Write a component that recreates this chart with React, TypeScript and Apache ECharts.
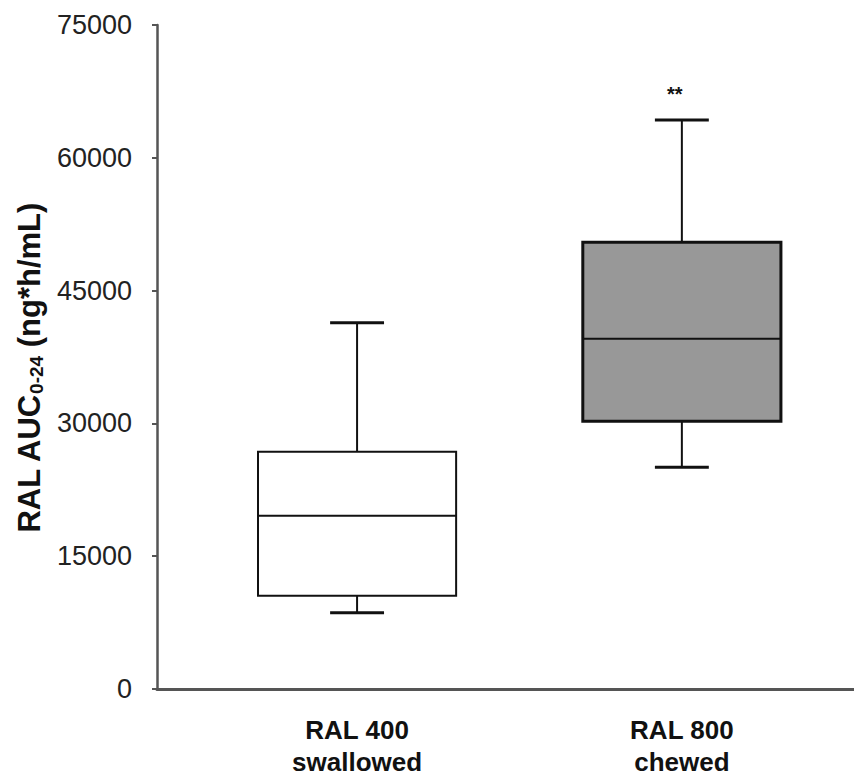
import React, { useEffect, useRef } from "react";
import * as echarts from "echarts";

// Groups and their five-number summaries (ng*h/mL)
const categories = ["RAL 400\nswallowed", "RAL 800\nchewed"];
const positions = [1, 2];
const whiskerLow = [8620, 25040];
const quartile1 = [10540, 30240];
const medians = [19580, 39570];
const quartile3 = [26800, 50460];
const whiskerHigh = [41380, 64270];
const significance = ["", "**"];
const boxFills = ["#ffffff", "#989898"];
const boxBorders = [2, 3];

const yTicks = { min: 0, max: 75000, interval: 15000 };

const BOX_WIDTH = 0.61; // in x-axis units
const CAP_WIDTH = 0.166;
const FONT = "Liberation Sans, Arial, sans-serif";

export default function App() {
  const ref = useRef<HTMLDivElement>(null);

  useEffect(() => {
    if (!ref.current) return;
    const chart = echarts.init(ref.current, undefined, { renderer: "svg" });

    const data = positions.map((p, i) => [
      p,
      whiskerLow[i],
      quartile1[i],
      medians[i],
      quartile3[i],
      whiskerHigh[i],
      i,
    ]);

    const renderItem = (params: any, api: any) => {
      const x = api.value(0);
      const idx = api.value(6);
      const pMin = api.coord([x, api.value(1)]);
      const pQ1 = api.coord([x, api.value(2)]);
      const pMed = api.coord([x, api.value(3)]);
      const pQ3 = api.coord([x, api.value(4)]);
      const pMax = api.coord([x, api.value(5)]);
      const halfBox = api.size([BOX_WIDTH, 0])[0] / 2;
      const halfCap = api.size([CAP_WIDTH, 0])[0] / 2;
      const cx = pMed[0];
      const line = { stroke: "#111", lineWidth: 2 };
      const cap = { stroke: "#111", lineWidth: 3 };
      const children: any[] = [
        { type: "line", shape: { x1: cx, y1: pQ3[1], x2: cx, y2: pMax[1] }, style: line },
        { type: "line", shape: { x1: cx, y1: pQ1[1], x2: cx, y2: pMin[1] }, style: line },
        { type: "line", shape: { x1: cx - halfCap, y1: pMax[1], x2: cx + halfCap, y2: pMax[1] }, style: cap },
        { type: "line", shape: { x1: cx - halfCap, y1: pMin[1], x2: cx + halfCap, y2: pMin[1] }, style: cap },
        {
          type: "rect",
          shape: { x: cx - halfBox, y: pQ3[1], width: halfBox * 2, height: pQ1[1] - pQ3[1] },
          style: { fill: boxFills[idx], stroke: "#111", lineWidth: boxBorders[idx] },
        },
        { type: "line", shape: { x1: cx - halfBox, y1: pMed[1], x2: cx + halfBox, y2: pMed[1] }, style: line },
      ];
      if (significance[idx]) {
        children.push({
          type: "text",
          x: cx - 7,
          y: pMax[1] - 26,
          style: {
            text: significance[idx],
            fontSize: 20,
            fontWeight: "bold",
            fontFamily: FONT,
            fill: "#111",
            align: "center",
            verticalAlign: "middle",
          },
        });
      }
      return { type: "group", children };
    };

    chart.setOption({
      animation: false,
      backgroundColor: "#ffffff",
      grid: { left: 157, right: 0, top: 25, bottom: 91 },
      xAxis: {
        type: "value",
        min: 0.384,
        max: 2.53,
        splitLine: { show: false },
        axisLine: { show: true, onZero: false, lineStyle: { color: "#555", width: 3 } },
        axisTick: { show: false },
        axisLabel: {
          show: true,
          customValues: positions,
          formatter: (v: number) => {
            const i = positions.indexOf(Math.round(v));
            return i >= 0 ? categories[i] : "";
          },
          margin: 25,
          fontSize: 26,
          lineHeight: 32,
          fontWeight: "bold",
          color: "#111",
          fontFamily: FONT,
        },
      },
      yAxis: {
        type: "value",
        min: yTicks.min,
        max: yTicks.max,
        interval: yTicks.interval,
        splitLine: { show: false },
        axisLine: { show: true, lineStyle: { color: "#555", width: 2.5 } },
        axisTick: { show: true, length: 5, lineStyle: { color: "#555", width: 2 } },
        axisLabel: {
          margin: 25,
          fontSize: 27,
          color: "#222",
          fontFamily: FONT,
          formatter: (v: number) => String(v),
        },
      },
      graphic: [
        {
          type: "text",
          x: 30,
          y: 368,
          rotation: Math.PI / 2,
          style: {
            text: "{m|RAL AUC}{s|0-24}{m| (ng*h/mL)}",
            align: "center",
            verticalAlign: "middle",
            fill: "#111",
            rich: {
              m: {
                fontSize: 31,
                fontWeight: "bold",
                lineHeight: 32,
                verticalAlign: "top",
                fontFamily: FONT,
                fill: "#111",
              },
              s: {
                fontSize: 19,
                fontWeight: "bold",
                lineHeight: 19,
                padding: [18, 0, 0, 0],
                verticalAlign: "bottom",
                fontFamily: FONT,
                fill: "#111",
              },
            },
          },
        },
      ],
      series: [
        {
          type: "custom",
          renderItem,
          encode: { x: 0, y: [1, 2, 3, 4, 5] },
          data,
          clip: false,
        },
      ],
    });

    return () => chart.dispose();
  }, []);

  return (
    <div
      ref={ref}
      style={{ position: "fixed", left: 0, top: 0, width: 854, height: 780 }}
    />
  );
}
